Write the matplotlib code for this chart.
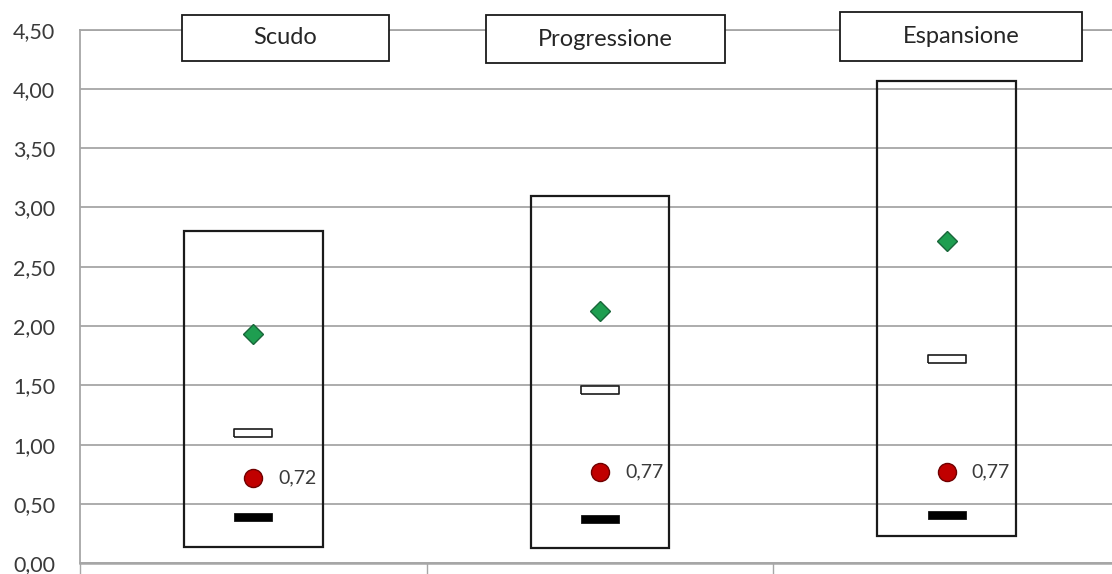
#!/usr/bin/env python3
"""
Range chart: min-max box per scenario with mean / median / markers
"""

import matplotlib
matplotlib.use('Agg')
import matplotlib.pyplot as plt
from matplotlib.patches import Rectangle

plt.rcParams['font.family'] = ['Lato', 'DejaVu Sans']

# Data
scenarios = ['Scudo', 'Progressione', 'Espansione']
box_low = [0.14, 0.13, 0.23]
box_high = [2.80, 3.10, 4.07]
green_values = [1.93, 2.13, 2.72]
white_values = [1.10, 1.46, 1.72]
red_values = [0.72, 0.77, 0.77]
red_labels = ['0,72', '0,77', '0,77']
black_values = [0.39, 0.37, 0.41]

y_ticks = [0.0, 0.5, 1.0, 1.5, 2.0, 2.5, 3.0, 3.5, 4.0, 4.5]
y_tick_labels = ['0,00', '0,50', '1,00', '1,50', '2,00', '2,50', '3,00', '3,50', '4,00', '4,50']

W, H = 1112, 574
fig = plt.figure(figsize=(W / 100, H / 100), dpi=100)

# Axes: left spine at x=80px, 0 at y=563px, 4.5 at y=30px; right edge runs past the canvas
ax = fig.add_axes([80 / W, (H - 563.3) / H, 1040 / W, 533.7 / H])

x = list(range(len(scenarios)))
grid_color = '#a6a6a6'

# Min-max boxes (no fill, gridlines show through)
ax.bar(x, [h - l for h, l in zip(box_high, box_low)], bottom=box_low, width=0.40,
       fill=False, edgecolor='#1a1a1a', linewidth=1.6, zorder=3)

# Markers
ax.plot(x, green_values, linestyle='none', marker='D', markersize=10,
        markerfacecolor='#1e9e50', markeredgecolor='#19663a', markeredgewidth=1.0, zorder=4)

rect_marker = [(-1, -0.19), (1, -0.19), (1, 0.19), (-1, 0.19), (-1, -0.19)]
ax.plot(x, white_values, linestyle='none', marker=rect_marker, markersize=27,
        markerfacecolor='white', markeredgecolor='#1a1a1a', markeredgewidth=1.2, zorder=4)
ax.plot(x, black_values, linestyle='none', marker=rect_marker, markersize=27,
        markerfacecolor='black', markeredgecolor='black', markeredgewidth=0.5, zorder=4)

ax.plot(x, red_values, linestyle='none', marker='o', markersize=13,
        markerfacecolor='#c00000', markeredgecolor='#700000', markeredgewidth=1.0, zorder=4)
for xi, yi, lab in zip(x, red_values, red_labels):
    ax.annotate(lab, (xi, yi), xytext=(18, 0), textcoords='offset points',
                ha='left', va='center', fontsize=14, color='#3a3a3a')

# Axes styling
ax.set_xlim(-0.5, 2.5)
ax.set_ylim(0, 4.5)
ax.set_yticks(y_ticks)
ax.set_yticklabels(y_tick_labels)
ax.tick_params(axis='y', length=0, pad=18, labelsize=15.5, labelcolor='#3a3a3a')
ax.yaxis.grid(True, color=grid_color, linewidth=1.3)
ax.set_axisbelow(True)

# category separators below the axis
ax.set_xticks([-0.5, 0.5, 1.5, 2.5])
ax.set_xticklabels([])
ax.tick_params(axis='x', direction='out', length=12, width=1.0, color=grid_color)

for side in ['left', 'top']:
    ax.spines[side].set_color(grid_color)
    ax.spines[side].set_linewidth(1.3)
ax.spines['bottom'].set_color(grid_color)
ax.spines['bottom'].set_linewidth(1.8)
ax.spines['right'].set_visible(False)

# Title boxes above each scenario (pixel layout)
title_boxes = [(182, 15, 389, 61), (486, 15, 725, 63), (840, 12, 1082, 61)]
for name, (x0, y0, x1, y1) in zip(scenarios, title_boxes):
    fig.patches.append(Rectangle((x0 / W, 1 - y1 / H), (x1 - x0) / W, (y1 - y0) / H,
                                 transform=fig.transFigure, facecolor='white',
                                 edgecolor='#1a1a1a', linewidth=1.3, zorder=5))
    fig.text((x0 + x1) / 2 / W, 1 - (y0 + y1) / 2 / H, name, ha='center', va='center',
             fontsize=17, color='#262626', zorder=6)

plt.savefig('out.png', dpi=100)
plt.close()
